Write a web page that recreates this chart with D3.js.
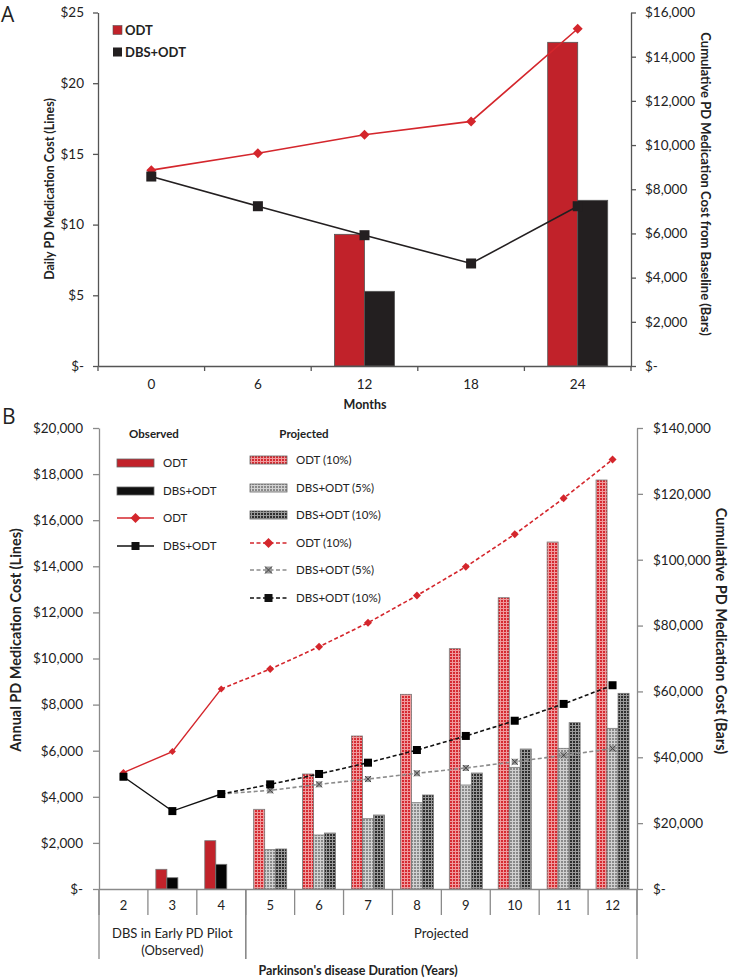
<!DOCTYPE html>
<html>
<head>
<meta charset="utf-8">
<script src="https://cdn.jsdelivr.net/npm/d3@7"></script>
<style>
  html, body { margin: 0; padding: 0; background: #fff; }
  svg { display: block; font-family: Lato, "Open Sans", sans-serif; }
  text { fill: #222; }
</style>
</head>
<body>
<svg id="chart" width="731" height="978"></svg>
<script>
// ---------------- Panel A data ----------------
const monthsA = ["0", "6", "12", "18", "24"];
const dailyODT = [13.85, 15.05, 16.35, 17.3, 23.85];
const dailyDBS = [13.4, 11.3, 9.25, 7.25, 11.3];
const cumODT_A = [null, null, 5960, null, 14650];
const cumDBS_A = [null, null, 3380, null, 7500];
const ticksA_left = [0, 5, 10, 15, 20, 25];
const ticksA_right = [0, 2000, 4000, 6000, 8000, 10000, 12000, 14000, 16000];

// ---------------- Panel B data ----------------
const yearsB = ["2", "3", "4", "5", "6", "7", "8", "9", "10", "11", "12"];
const obsYears = ["2", "3", "4"];
const projYears = ["4", "5", "6", "7", "8", "9", "10", "11", "12"];
const annualODTObs = [5050, 5960, 8680];
const annualDBSObs = [4870, 3380, 4120];
const annualODTProj = [8680, 9540, 10510, 11550, 12730, 13980, 15390, 16950, 18630];
const annualDBS5Proj = [4120, 4280, 4540, 4770, 5020, 5250, 5520, 5800, 6090];
const annualDBS10Proj = [4120, 4540, 4990, 5480, 6030, 6640, 7300, 8030, 8840];
const cumODTObs = [null, 5980, 14670];
const cumDBSObs = [null, 3430, 7500];
const barYearsProj = ["5", "6", "7", "8", "9", "10", "11", "12"];
const cumODTProj = [24200, 34920, 46460, 59120, 72980, 88460, 105370, 124200];
const cumDBS5Proj = [11940, 16400, 21350, 26210, 31580, 36950, 42720, 48790];
const cumDBS10Proj = [12150, 17000, 22470, 28545, 35225, 42515, 50510, 59420];
const ticksB_left = [0, 2000, 4000, 6000, 8000, 10000, 12000, 14000, 16000, 18000, 20000];
const ticksB_right = [0, 20000, 40000, 60000, 80000, 100000, 120000, 140000];
const groupsB = [
  { label: ["DBS in Early PD Pilot", "(Observed)"], from: "2", to: "4" },
  { label: ["Projected"], from: "5", to: "12" }
];

const RED = "#c1222a", BLACK = "#231f20", GRAY = "#8c8c8c";
const svg = d3.select("#chart");
const fmtMoney = v => v === 0 ? "$-" : "$" + d3.format(",")(v);

// patterns
const defs = svg.append("defs");
function gridPattern(id, base, line) {
  const p = defs.append("pattern").attr("id", id).attr("patternUnits", "userSpaceOnUse")
    .attr("width", 3).attr("height", 3);
  p.append("rect").attr("width", 3).attr("height", 3).attr("fill", base);
  p.append("rect").attr("x", 0).attr("y", 2).attr("width", 3).attr("height", 1).attr("fill", line);
  p.append("rect").attr("x", 2).attr("y", 0).attr("width", 1).attr("height", 3).attr("fill", line);
}
gridPattern("pRed", "#d52a31", "#f09a9c");
gridPattern("pGray", "#8a8a8a", "#d2d2d2");
gridPattern("pDark", "#2e2e2e", "#9a9a9a");

function diamond(g, x, y, r, fill) {
  g.append("path").attr("d", `M${x},${y - r}L${x + r},${y}L${x},${y + r}L${x - r},${y}Z`).attr("fill", fill);
}
function square(g, x, y, s, fill) {
  return g.append("rect").attr("x", x - s / 2).attr("y", y - s / 2).attr("width", s).attr("height", s).attr("fill", fill);
}
function xsquare(g, x, y, s) {
  g.append("rect").attr("x", x - s / 2).attr("y", y - s / 2).attr("width", s).attr("height", s).attr("fill", "#9a9a9a");
  g.append("path").attr("d", `M${x - s / 2},${y - s / 2}L${x + s / 2},${y + s / 2}M${x + s / 2},${y - s / 2}L${x - s / 2},${y + s / 2}`)
    .attr("stroke", "#444").attr("stroke-width", 1);
}

// =============== PANEL A ===============
const gA = svg.append("g");
const xA = d3.scaleBand().domain(monthsA).range([98, 631]);
const yAL = d3.scaleLinear().domain([0, 25]).range([366, 12.5]);
const yAR = d3.scaleLinear().domain([0, 16000]).range([366, 12.5]);
const subA = d3.scaleBand().domain(["ODT", "DBS"]).range([xA.bandwidth() / 2 - 30, xA.bandwidth() / 2 + 30]);

// bars
monthsA.forEach((m, i) => {
  [["ODT", cumODT_A[i], RED], ["DBS", cumDBS_A[i], BLACK]].forEach(([k, v, c]) => {
    if (v == null) return;
    gA.append("rect").attr("x", xA(m) + subA(k)).attr("y", yAR(v))
      .attr("width", subA.bandwidth()).attr("height", yAR(0) - yAR(v))
      .attr("fill", c).attr("stroke", "#555").attr("stroke-width", 0.8);
  });
});

// axes A
function styleAxis(g, color) {
  g.selectAll("path.domain").attr("stroke", color).attr("stroke-width", 1.3);
  g.selectAll(".tick line").attr("stroke", color).attr("stroke-width", 1.3);
  g.selectAll(".tick text").attr("fill", "#222").style("font-family", "Lato, sans-serif");
}
const axAL = gA.append("g").attr("transform", "translate(98,0)")
  .call(d3.axisLeft(yAL).tickValues(ticksA_left).tickSize(5).tickSizeOuter(0).tickPadding(9).tickFormat(v => v === 0 ? "$-" : "$" + v));
axAL.selectAll("text").attr("font-size", 13.5);
styleAxis(axAL, "#555");
const axAR = gA.append("g").attr("transform", "translate(631,0)")
  .call(d3.axisRight(yAR).tickValues(ticksA_right).tickSize(5).tickSizeOuter(0).tickPadding(9).tickFormat(fmtMoney));
axAR.selectAll("text").attr("font-size", 13.5);
styleAxis(axAR, "#555");
const axAB = gA.append("g").attr("transform", "translate(0,366)")
  .call(d3.axisBottom(xA).tickSize(0).tickPadding(13));
axAB.selectAll("text").attr("font-size", 13.5);
styleAxis(axAB, "#555");
monthsA.concat(["end"]).forEach((m, i) => {
  const x = i < monthsA.length ? xA(m) : xA.range()[1];
  gA.append("line").attr("x1", x).attr("x2", x).attr("y1", 366).attr("y2", 371).attr("stroke", "#555").attr("stroke-width", 1.3);
});

// lines A
const lineA = d3.line().x((d, i) => xA(monthsA[i]) + xA.bandwidth() / 2).y(d => yAL(d));
gA.append("path").attr("d", lineA(dailyODT)).attr("fill", "none").attr("stroke", "#d4262c").attr("stroke-width", 1.6);
gA.append("path").attr("d", lineA(dailyDBS)).attr("fill", "none").attr("stroke", BLACK).attr("stroke-width", 1.6);
dailyODT.forEach((v, i) => diamond(gA, xA(monthsA[i]) + xA.bandwidth() / 2, yAL(v), 5, "#d4262c"));
dailyDBS.forEach((v, i) => square(gA, xA(monthsA[i]) + xA.bandwidth() / 2, yAL(v), 10, BLACK));

// legend A
square(gA, 117.5, 30, 9, RED).attr("stroke", "#555").attr("stroke-width", 0.6);
gA.append("text").attr("x", 125).attr("y", 35).attr("font-size", 13).attr("font-weight", "bold").text("ODT");
square(gA, 117.5, 52, 9, BLACK);
gA.append("text").attr("x", 125).attr("y", 57).attr("font-size", 13).attr("font-weight", "bold").text("DBS+ODT");

// titles A
svg.append("text").attr("x", 1).attr("y", 22).attr("font-size", 21).style("font-family", "'Open Sans', sans-serif").text("A");
gA.append("text").attr("x", 365).attr("y", 409).attr("text-anchor", "middle").attr("font-size", 12.5).attr("font-weight", "bold").text("Months");
gA.append("text").attr("transform", "translate(54,189) rotate(-90)").attr("text-anchor", "middle")
  .attr("font-size", 12.5).attr("font-weight", "bold").text("Daily PD Medication Cost (Lines)");
gA.append("text").attr("transform", "translate(701,184) rotate(90)").attr("text-anchor", "middle")
  .attr("font-size", 13).attr("font-weight", "bold").text("Cumulative PD Medication Cost from Baseline (Bars)");

// =============== PANEL B ===============
const gB = svg.append("g");
const xB = d3.scaleBand().domain(yearsB).range([99, 637]);
const yBL = d3.scaleLinear().domain([0, 20000]).range([889, 428]);
const yBR = d3.scaleLinear().domain([0, 140000]).range([889, 428]);
const subB = d3.scaleBand().domain(["a", "b", "c"]).range([xB.bandwidth() / 2 - 16.5, xB.bandwidth() / 2 + 16.5]);

function barB(year, slot, v, fill) {
  if (v == null) return;
  gB.append("rect").attr("x", xB(year) + subB(slot)).attr("y", yBR(v))
    .attr("width", subB.bandwidth()).attr("height", yBR(0) - yBR(v))
    .attr("fill", fill).attr("stroke", "#777").attr("stroke-width", 0.8);
}
obsYears.forEach((y, i) => { barB(y, "a", cumODTObs[i], RED); barB(y, "b", cumDBSObs[i], "#050505"); });
barYearsProj.forEach((y, i) => {
  barB(y, "a", cumODTProj[i], "url(#pRed)");
  barB(y, "b", cumDBS5Proj[i], "url(#pGray)");
  barB(y, "c", cumDBS10Proj[i], "url(#pDark)");
});

// axes B
const axBL = gB.append("g").attr("transform", "translate(99,0)")
  .call(d3.axisLeft(yBL).tickValues(ticksB_left).tickSize(6).tickSizeOuter(0).tickPadding(10).tickFormat(fmtMoney));
axBL.selectAll("text").attr("font-size", 13.5);
styleAxis(axBL, "#8a8a8a");
const axBR = gB.append("g").attr("transform", "translate(637,0)")
  .call(d3.axisRight(yBR).tickValues(ticksB_right).tickSize(6).tickSizeOuter(0).tickPadding(10).tickFormat(fmtMoney));
axBR.selectAll("text").attr("font-size", 13.5);
styleAxis(axBR, "#8a8a8a");
const axBB = gB.append("g").attr("transform", "translate(0,889)")
  .call(d3.axisBottom(xB).tickSize(0).tickPadding(12));
axBB.selectAll("text").attr("font-size", 13);
styleAxis(axBB, "#8a8a8a");
yearsB.concat(["end"]).forEach((y, i) => {
  const x = i < yearsB.length ? xB(y) : xB.range()[1];
  gB.append("line").attr("x1", x).attr("x2", x).attr("y1", 889).attr("y2", 915).attr("stroke", "#8a8a8a").attr("stroke-width", 1.3);
});
groupsB.forEach((gr) => {
  const x0 = xB(gr.from), x1 = xB(gr.to) + xB.bandwidth();
  [x0, x1].forEach(x => gB.append("line").attr("x1", x).attr("x2", x).attr("y1", 889).attr("y2", 959)
    .attr("stroke", "#8a8a8a").attr("stroke-width", 1.3));
  gr.label.forEach((t, li) => gB.append("text").attr("x", (x0 + x1) / 2).attr("y", 938 + li * 17)
    .attr("text-anchor", "middle").attr("font-size", 13).text(t));
});

// lines B
const cx = y => xB(y) + xB.bandwidth() / 2;
const lineB = (yrs) => d3.line().x((d, i) => cx(yrs[i])).y(d => yBL(d));
gB.append("path").attr("d", lineB(projYears)(annualDBS5Proj)).attr("fill", "none").attr("stroke", GRAY).attr("stroke-width", 1.6).attr("stroke-dasharray", "4,2.5");
gB.append("path").attr("d", lineB(projYears)(annualDBS10Proj)).attr("fill", "none").attr("stroke", "#111").attr("stroke-width", 1.6).attr("stroke-dasharray", "4,2.5");
gB.append("path").attr("d", lineB(projYears)(annualODTProj)).attr("fill", "none").attr("stroke", "#d4262c").attr("stroke-width", 1.6).attr("stroke-dasharray", "4,2.5");
gB.append("path").attr("d", lineB(obsYears)(annualODTObs)).attr("fill", "none").attr("stroke", "#d4262c").attr("stroke-width", 1.4);
gB.append("path").attr("d", lineB(obsYears)(annualDBSObs)).attr("fill", "none").attr("stroke", "#111").attr("stroke-width", 1.4);
projYears.slice(1).forEach((y, i) => {
  xsquare(gB, cx(y), yBL(annualDBS5Proj[i + 1]), 6);
  square(gB, cx(y), yBL(annualDBS10Proj[i + 1]), 8, "#000");
  diamond(gB, cx(y), yBL(annualODTProj[i + 1]), 4, "#d4262c");
});
obsYears.forEach((y, i) => {
  diamond(gB, cx(y), yBL(annualODTObs[i]), 3.5, "#d4262c");
  square(gB, cx(y), yBL(annualDBSObs[i]), 8, "#000");
});

// legend B
const lg = gB.append("g");
lg.append("text").attr("x", 154).attr("y", 438).attr("text-anchor", "middle").attr("font-size", 11.5).attr("font-weight", "bold").text("Observed");
lg.append("text").attr("x", 304).attr("y", 438).attr("text-anchor", "middle").attr("font-size", 11.5).attr("font-weight", "bold").text("Projected");
function legBar(x, y, fill, label) {
  lg.append("rect").attr("x", x).attr("y", y - 4).attr("width", 37).attr("height", 8).attr("fill", fill).attr("stroke", "#666").attr("stroke-width", 0.8);
  lg.append("text").attr("x", x + 46).attr("y", y + 4).attr("font-size", 11.5).text(label);
}
function legLine(x, y, color, dash, marker, label) {
  lg.append("line").attr("x1", x).attr("x2", x + 37).attr("y1", y).attr("y2", y).attr("stroke", color).attr("stroke-width", 1.6).attr("stroke-dasharray", dash);
  marker(x + 18.5, y);
  lg.append("text").attr("x", x + 46).attr("y", y + 4).attr("font-size", 11.5).text(label);
}
legBar(117, 463, RED, "ODT");
legBar(117, 491, "#111", "DBS+ODT");
legLine(117, 518, "#d4262c", null, (x, y) => diamond(lg, x, y, 5, "#d4262c"), "ODT");
legLine(117, 546, "#111", null, (x, y) => square(lg, x, y, 8, "#111"), "DBS+ODT");
legBar(250, 460, "url(#pRed)", "ODT (10%)");
legBar(250, 488, "url(#pGray)", "DBS+ODT (5%)");
legBar(250, 515, "url(#pDark)", "DBS+ODT (10%)");
legLine(250, 543, "#d4262c", "4,2.5", (x, y) => diamond(lg, x, y, 5, "#d4262c"), "ODT (10%)");
legLine(250, 570, GRAY, "4,2.5", (x, y) => xsquare(lg, x, y, 7), "DBS+ODT (5%)");
legLine(250, 598, "#111", "4,2.5", (x, y) => square(lg, x, y, 8, "#111"), "DBS+ODT (10%)");

// titles B
svg.append("text").attr("x", 2).attr("y", 424).attr("font-size", 21).style("font-family", "'Open Sans', sans-serif").text("B");
gB.append("text").attr("transform", "translate(21,640) rotate(-90)").attr("text-anchor", "middle")
  .attr("font-size", 14.5).attr("font-weight", "bold").text("Annual PD Medication Cost (Lines)");
gB.append("text").attr("transform", "translate(716,631) rotate(90)").attr("text-anchor", "middle")
  .attr("font-size", 14.5).attr("font-weight", "bold").text("Cumulative PD Medication Cost (Bars)");
gB.append("text").attr("x", 358).attr("y", 975).attr("text-anchor", "middle").attr("font-size", 12.5).attr("font-weight", "bold").text("Parkinson's disease Duration (Years)");
</script>
</body>
</html>
